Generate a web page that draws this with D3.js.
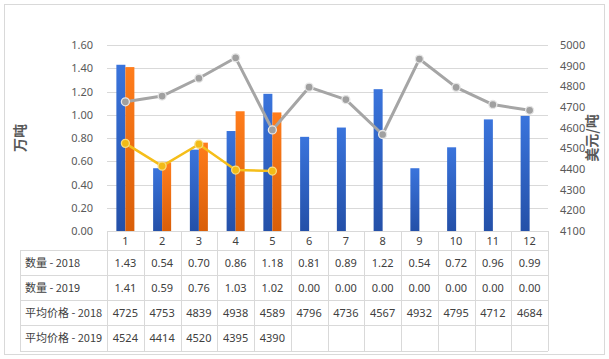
<!DOCTYPE html>
<html><head><meta charset="utf-8">
<script src="https://cdn.jsdelivr.net/npm/d3@7"></script>
<style>body{margin:0;background:#fff}svg{display:block}</style>
</head><body>
<svg id="c" width="609" height="359"></svg>
<script>
const categories = ["1","2","3","4","5","6","7","8","9","10","11","12"];
const qty2018 = [1.43,0.54,0.70,0.86,1.18,0.81,0.89,1.22,0.54,0.72,0.96,0.99];
const qty2019 = [1.41,0.59,0.76,1.03,1.02,0.00,0.00,0.00,0.00,0.00,0.00,0.00];
const price2018 = [4725,4753,4839,4938,4589,4796,4736,4567,4932,4795,4712,4684];
const price2019 = [4524,4414,4520,4395,4390,null,null,null,null,null,null,null];
const leftTicks = [0,0.2,0.4,0.6,0.8,1.0,1.2,1.4,1.6];
const rightTicks = [4100,4200,4300,4400,4500,4600,4700,4800,4900,5000];
const seriesNames = ["数量 - 2018","数量 - 2019","平均价格 - 2018","平均价格 - 2019"];

const svg = d3.select("#c");
const FONT = "'Noto Sans','Noto Sans CJK SC',sans-serif";
const L = 107, R = 548, T = 45, B = 231;
const x = d3.scaleBand().domain(categories).range([L, R]).padding(0);
const yL = d3.scaleLinear().domain([0, 1.6]).range([B, T]);
const yR = d3.scaleLinear().domain([4100, 5000]).range([B, T]);

// chart border
svg.append("rect").attr("x",4.5).attr("y",4.5).attr("width",600).attr("height",350)
  .attr("fill","none").attr("stroke","#d9d9d9");

const defs = svg.append("defs");
function grad(id, top, bot){
  const g = defs.append("linearGradient").attr("id",id).attr("x1",0).attr("y1",0).attr("x2",0).attr("y2",1);
  g.append("stop").attr("offset","0%").attr("stop-color",top);
  g.append("stop").attr("offset","100%").attr("stop-color",bot);
}
grad("gb","#3a74dc","#2450a8");
grad("go","#ff7d1c","#d95e08");

// gridlines
svg.append("g").selectAll("line").data(leftTicks.slice(1)).join("line")
  .attr("x1",L).attr("x2",R).attr("y1",d=>Math.round(yL(d))+0.5).attr("y2",d=>Math.round(yL(d))+0.5)
  .attr("stroke","#d9d9d9");

// left axis labels
const axL = svg.append("g").attr("transform",`translate(${L},0)`)
  .call(d3.axisLeft(yL).tickValues(leftTicks).tickFormat(d3.format(".2f")).tickSize(0).tickPadding(14));
axL.select(".domain").remove();
axL.selectAll("text").attr("font-family",FONT).attr("font-size",11).attr("fill","#595959");

// right axis labels
const axR = svg.append("g").attr("transform",`translate(${R},0)`)
  .call(d3.axisRight(yR).tickValues(rightTicks).tickFormat(d3.format("d")).tickSize(0).tickPadding(12));
axR.select(".domain").remove();
axR.selectAll("text").attr("font-family",FONT).attr("font-size",11).attr("fill","#595959");

// axis titles
svg.append("text").attr("transform","translate(25,138) rotate(-90)").attr("text-anchor","middle")
  .attr("font-family","'Noto Sans CJK SC',sans-serif").attr("font-size",14).attr("font-weight","bold").attr("fill","#595959").text("万吨");
svg.append("text").attr("transform","translate(597,138) rotate(-90)").attr("text-anchor","middle")
  .attr("font-family","'Noto Sans CJK SC',sans-serif").attr("font-size",14).attr("font-weight","bold").attr("fill","#595959").text("美元/吨");

// bars
const bw = x.bandwidth()*0.245;
svg.append("g").selectAll("rect").data(categories).join("rect")
  .attr("x",d=>x(d)+x.bandwidth()/2-bw).attr("width",bw)
  .attr("y",(d,i)=>yL(qty2018[i])).attr("height",(d,i)=>B-yL(qty2018[i]))
  .attr("fill","url(#gb)");
svg.append("g").selectAll("rect").data(categories).join("rect")
  .attr("x",d=>x(d)+x.bandwidth()/2).attr("width",bw)
  .attr("y",(d,i)=>yL(qty2019[i])).attr("height",(d,i)=>B-yL(qty2019[i]))
  .attr("fill","url(#go)");

// lines
const cx = d=>x(d)+x.bandwidth()/2;
function drawLine(vals, color, width, mfill, mstroke){
  const pts = categories.map((c,i)=>({c, v:vals[i]})).filter(p=>p.v!=null);
  svg.append("path").datum(pts)
    .attr("d", d3.line().x(p=>cx(p.c)).y(p=>yR(p.v)))
    .attr("fill","none").attr("stroke",color).attr("stroke-width",width).attr("stroke-linejoin","round");
  svg.append("g").selectAll("circle").data(pts).join("circle")
    .attr("cx",p=>cx(p.c)).attr("cy",p=>yR(p.v)).attr("r",4)
    .attr("fill",mfill).attr("stroke",mstroke).attr("stroke-width",1.3);
}
drawLine(price2018,"#a5a5a5",3,"#a0a0a0","#e6e6e6");
drawLine(price2019,"#f5be1a",2.5,"#f2bb16","#f8dc80");

// data table
const rowsY = [250, 275, 300, 325, 351];
const tg = svg.append("g").attr("stroke","#d9d9d9").attr("shape-rendering","crispEdges");
tg.append("line").attr("x1",L).attr("x2",R).attr("y1",B+0.5).attr("y2",B+0.5);
rowsY.forEach(yy=>tg.append("line").attr("x1",20).attr("x2",R).attr("y1",yy+0.5).attr("y2",yy+0.5));
tg.append("line").attr("x1",20.5).attr("x2",20.5).attr("y1",rowsY[0]).attr("y2",rowsY[4]);
categories.concat(["end"]).forEach((c,i)=>{
  const xx = i<categories.length ? x(c) : R;
  tg.append("line").attr("x1",Math.round(xx)+0.5).attr("x2",Math.round(xx)+0.5).attr("y1",B).attr("y2",rowsY[4]);
});
// header row
svg.append("g").selectAll("text").data(categories).join("text")
  .attr("x",cx).attr("y",(B+rowsY[0])/2+4).attr("text-anchor","middle")
  .attr("font-family",FONT).attr("font-size",11).attr("fill","#404040").text(d=>d);
const tableData = [
  qty2018.map(v=>v.toFixed(2)),
  qty2019.map(v=>v.toFixed(2)),
  price2018.map(v=>String(v)),
  price2019.map(v=>v==null?"":String(v))
];
tableData.forEach((row,ri)=>{
  const yy = (rowsY[ri]+rowsY[ri+1])/2+4;
  svg.append("text").attr("x",25).attr("y",yy).attr("font-family","'Noto Sans CJK SC',sans-serif")
    .attr("font-size",11).attr("fill","#404040").text(seriesNames[ri]);
  svg.append("g").selectAll("text").data(row).join("text")
    .attr("x",(d,i)=>cx(categories[i])).attr("y",yy).attr("text-anchor","middle")
    .attr("font-family",FONT).attr("font-size",11).attr("fill","#404040").text(d=>d);
});
</script>
</body></html>
